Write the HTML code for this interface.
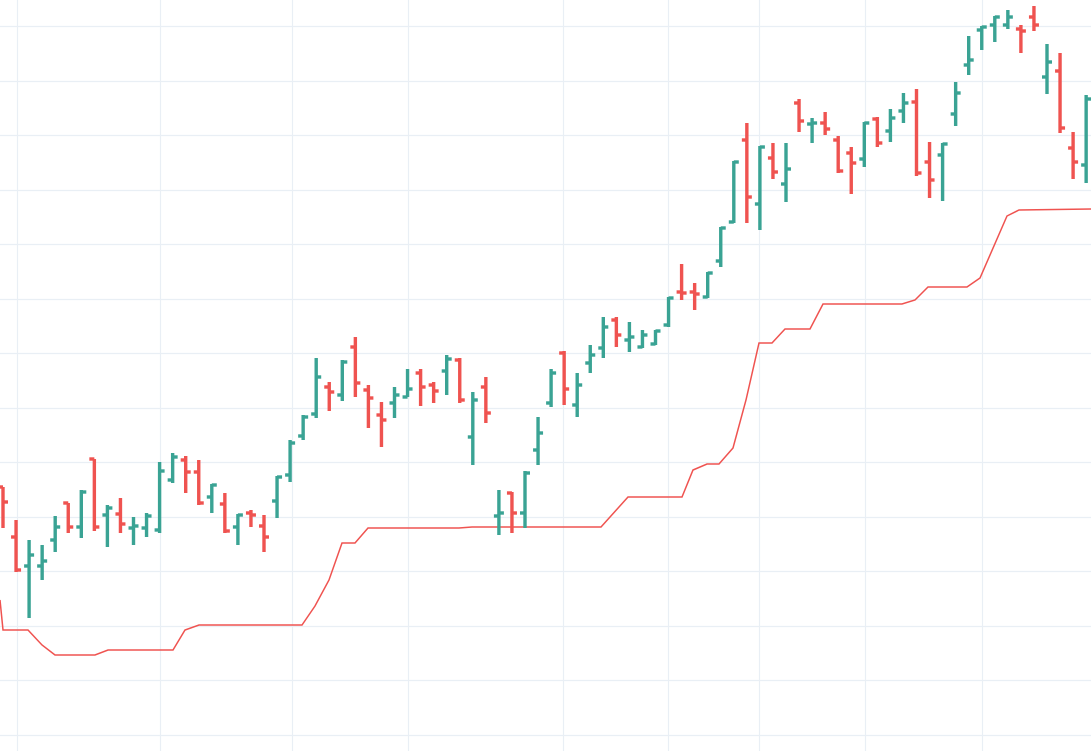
<!DOCTYPE html>
<html><head><meta charset="utf-8"><style>html,body{margin:0;padding:0;background:#fff;overflow:hidden}svg{display:block}</style></head>
<body>
<svg id="c" width="1091" height="751" xmlns="http://www.w3.org/2000/svg"></svg>
<script>
var d=[[487,528,487,502],[520,572,537,570],[540,618,566,555],[545,580,566,561],[516,552,540,527],[503,533,503,527],[490,538,527,492],[459,531,459,527],[505,547,515,508],[498,533,514,524],[517,545,528,526],[513,537,528,516],[462,533,530,471],[453,483,480,457],[456,493,460,472],[460,505,472,503],[484,513,497,485],[493,533,504,531],[514,545,527,515],[510,527,513,515],[515,552,526,537],[476,518,501,477],[440,482,475,443],[415,440,436,417],[358,418,414,377],[382,411,387,392],[360,401,395,362],[337,397,347,383],[385,428,390,398],[402,447,415,420],[387,418,403,395],[369,397,397,389],[369,406,373,387],[382,403,385,391],[355,395,371,359],[358,403,360,400],[392,465,437,400],[377,423,387,413],[490,535,516,513],[492,533,493,513],[471,528,513,473],[417,465,450,433],[369,407,403,373],[351,405,353,389],[373,417,405,385],[345,373,363,355],[317,358,348,327],[317,347,320,335],[322,352,340,337],[330,348,347,335],[330,345,344,331],[297,327,325,298],[264,300,292,293],[283,310,292,294],[272,298,297,273],[227,267,261,228],[161,223,222,162],[123,223,140,197],[146,230,204,147],[143,179,158,172],[143,202,184,169],[99,132,103,121],[118,143,124,123],[112,135,123,129],[136,173,140,171],[147,194,153,163],[122,167,159,123],[117,147,119,143],[109,142,131,118],[93,123,111,103],[89,176,102,173],[142,198,162,180],[143,201,155,144],[82,126,114,93],[36,75,65,60],[26,50,30,27],[16,42,25,17],[10,29,25,17],[25,53,29,31],[6,31,17,25],[44,94,77,62],[53,133,71,128],[132,179,148,162],[95,183,165,99]];
var s='';
[26,81,135,190,244,299,353,408,462,517,571,626,680,735].forEach(function(y){s+='<line x1="0" x2="1091" y1="'+y+'.5" y2="'+y+'.5" stroke="#e9eff5" stroke-width="1.2"/>'});
[17,160,292,408,563,668,759,865,982].forEach(function(x){s+='<line y1="0" y2="751" x1="'+x+'.5" x2="'+x+'.5" stroke="#e9eff5" stroke-width="1.2"/>'});
var st=[[0,600],[3,630],[28,630],[42,645],[55,655],[95,655],[108,650],[173,650],[185,630],[199,625],[302,625],[315,606],[329,580],[342,543],[355,543],[368,528],[459,528],[472,527],[601,527],[628,497],[682,497],[693,470],[707,464],[719,464],[733,448],[746,400],[759,343],[772,343],[785,329],[810,329],[823,304],[902,304],[915,300],[928,287],[967,287],[980,278],[1007,216],[1019,210],[1091,209]];
s+='<polyline fill="none" stroke="#ef5350" stroke-width="1.5" points="'+st.map(function(p){return p.join(',')}).join(' ')+'"/>';
d.forEach(function(b,i){var x=3+i*13.05;var c=b[3]<b[2]?'#3aa394':'#ef5350';
s+='<g stroke="'+c+'" stroke-width="3.4"><line x1="'+x+'" x2="'+x+'" y1="'+b[0]+'" y2="'+b[1]+'"/><line x1="'+(x-5)+'" x2="'+x+'" y1="'+b[2]+'" y2="'+b[2]+'"/><line x1="'+x+'" x2="'+(x+5)+'" y1="'+b[3]+'" y2="'+b[3]+'"/></g>';});
document.getElementById('c').innerHTML=s;
</script>
</body></html>
